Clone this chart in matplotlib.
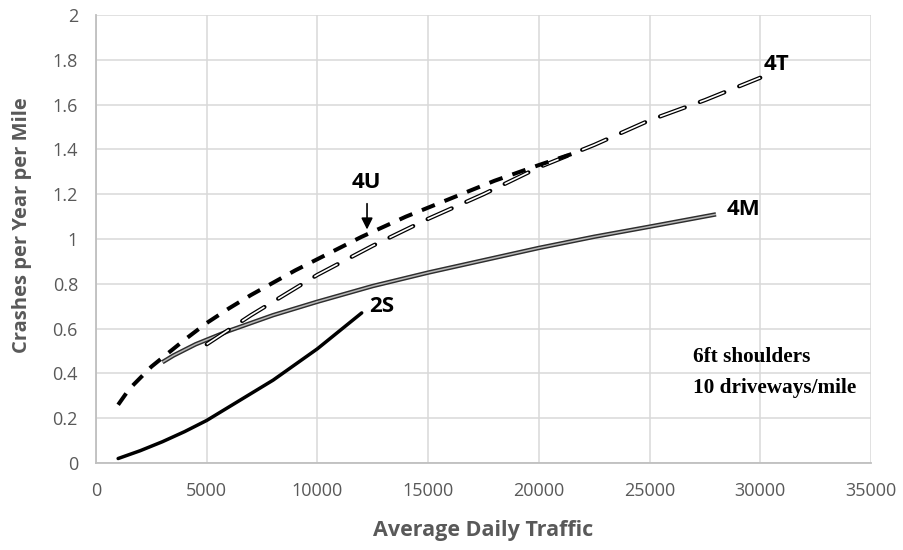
import matplotlib
matplotlib.use('Agg')
import matplotlib.pyplot as plt

plt.rcParams['lines.scale_dashes'] = False

# values
x_2s = [1000, 2000, 3000, 4000, 5000, 6000, 7000, 8000, 9000, 10000, 11000, 12000]
y_2s = [0.02, 0.055, 0.095, 0.14, 0.19, 0.25, 0.31, 0.37, 0.44, 0.51, 0.59, 0.67]

x_4u = [1000, 1500, 2000, 2500, 3000, 4000, 5000, 6000, 7000, 8000, 9000, 10000, 12000, 14000, 16000, 18000, 20000, 21500]
y_4u = [0.26, 0.33, 0.38, 0.43, 0.47, 0.55, 0.625, 0.69, 0.75, 0.805, 0.86, 0.91, 1.01, 1.10, 1.18, 1.26, 1.33, 1.38]

x_4t = [5000, 6000, 7000, 8000, 10000, 12500, 15000, 17500, 20000, 22500, 25000, 27500, 30000]
y_4t = [0.53, 0.595, 0.66, 0.72, 0.84, 0.97, 1.09, 1.20, 1.32, 1.42, 1.53, 1.62, 1.72]

x_4m = [3000, 3500, 4000, 4500, 5000, 6000, 7000, 8000, 10000, 12500, 15000, 17500, 20000, 22500, 25000, 28000]
y_4m = [0.45, 0.48, 0.505, 0.53, 0.55, 0.59, 0.625, 0.66, 0.72, 0.79, 0.85, 0.905, 0.96, 1.01, 1.055, 1.11]

x_ticks = [0, 5000, 10000, 15000, 20000, 25000, 30000, 35000]
y_ticks = [0, 0.2, 0.4, 0.6, 0.8, 1, 1.2, 1.4, 1.6, 1.8, 2]
y_tick_labels = ['0', '0.2', '0.4', '0.6', '0.8', '1', '1.2', '1.4', '1.6', '1.8', '2']

grey = '#595959'

fig = plt.figure(figsize=(9.04, 5.5), dpi=100)
ax = fig.add_axes([96/904, 87/550, 775/904, 448/550])

ax.set_xlim(0, 35000)
ax.set_ylim(0, 2)
ax.set_xticks(x_ticks)
ax.set_xticklabels([str(v) for v in x_ticks])
ax.set_yticks(y_ticks)
ax.set_yticklabels(y_tick_labels)
ax.grid(True, color='#d9d9d9', lw=1.1)
ax.set_axisbelow(True)
for s in ['top', 'right']:
    ax.spines[s].set_visible(False)
for s in ['left', 'bottom']:
    ax.spines[s].set_color('#bfbfbf')
    ax.spines[s].set_linewidth(1.3)
ax.tick_params(axis='x', length=0, labelsize=13, labelcolor=grey, pad=14)
ax.tick_params(axis='y', length=0, labelsize=13, labelcolor=grey, pad=13)
for lab in ax.get_xticklabels() + ax.get_yticklabels():
    lab.set_family('Open Sans')

# 2S
ax.plot(x_2s, y_2s, color='black', lw=2.5, solid_capstyle='round')

# 4M double line
ax.plot(x_4m, y_4m, color='#2e2e2e', lw=3.2, solid_capstyle='butt')
ax.plot(x_4m, y_4m, color='#b8b8b8', lw=1.1, solid_capstyle='butt')

# 4T outlined long dash
ax.plot(x_4t, y_4t, color='black', lw=3.0, dashes=(19, 11.5), dash_capstyle='round')
ax.plot(x_4t, y_4t, color='white', lw=1.2, dashes=(19, 11.5), dash_capstyle='butt')

# 4U short dash
ax.plot(x_4u, y_4u, color='black', lw=2.9, dashes=(10, 7.5), dash_capstyle='butt')

lab_kw = dict(fontsize=16, fontweight='bold', family='Open Sans', color='black', va='center')
ax.text(30150, 1.78, '4T', **lab_kw)
ax.text(28500, 1.13, '4M', **lab_kw)
ax.text(12200, 1.25, '4U', ha='center', **lab_kw)
ax.text(12350, 0.70, '2S', **lab_kw)
ax.annotate('', xy=(12240, 1.03), xytext=(12240, 1.17),
            arrowprops=dict(arrowstyle='-|>', color='black', lw=1.2, mutation_scale=17))

note_kw = dict(fontsize=15.3, fontweight='bold', family='Liberation Serif', color='black', va='center')
ax.text(26960, 0.473, '6ft shoulders', **note_kw)
ax.text(26960, 0.335, '10 driveways/mile', **note_kw)

ax.set_xlabel('Average Daily Traffic', fontsize=15.5, fontweight='bold', color=grey,
              family='Open Sans', labelpad=14)
ax.set_ylabel('Crashes per Year per Mile', fontsize=14.5, fontweight='bold', color=grey,
              family='Open Sans')
ax.yaxis.set_label_coords(-0.083, 0.53)

fig.savefig('out.png', dpi=100)
